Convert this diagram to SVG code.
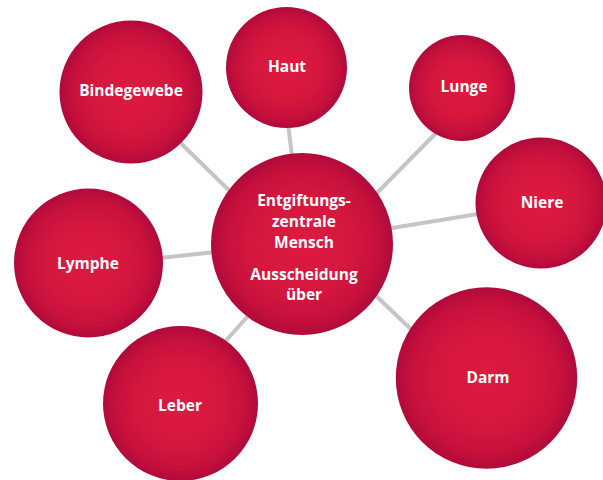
<svg xmlns="http://www.w3.org/2000/svg" width="603" height="480" viewBox="0 0 603 480">
<defs>
<radialGradient id="rg" cx="50%" cy="50%" r="50%">
<stop offset="0" stop-color="#de1a40"/>
<stop offset="0.55" stop-color="#d5173e"/>
<stop offset="0.85" stop-color="#c5103c"/>
<stop offset="1" stop-color="#b00a3a"/>
</radialGradient>
</defs>
<style>
.n{fill:url(#rg)}
.t{font-family:"Open Sans",Lato,sans-serif;font-weight:bold;font-size:15.5px;fill:#ffffff;text-anchor:middle}
.c line{stroke:#c3c5c7;stroke-width:4}
</style>
<rect width="603" height="480" fill="#ffffff"/>
<g id="connectors" class="c">
<line x1="160" y1="123" x2="240" y2="201"/>
<line x1="287" y1="115" x2="293" y2="165"/>
<line x1="445" y1="124" x2="370" y2="200"/>
<line x1="490" y1="212" x2="380" y2="230"/>
<line x1="150" y1="259" x2="225" y2="251"/>
<line x1="215" y1="353" x2="255" y2="308"/>
<line x1="370" y1="290" x2="420" y2="338"/>
</g>
<g id="bindegewebe"><circle class="n" cx="131" cy="92" r="71.5"/><text class="t" x="131" y="96">Bindegewebe</text></g>
<g id="haut"><circle class="n" cx="286.5" cy="67.5" r="60.5"/><text class="t" x="287" y="72">Haut</text></g>
<g id="lunge"><circle class="n" cx="462" cy="88" r="53"/><text class="t" x="464" y="92">Lunge</text></g>
<g id="niere"><circle class="n" cx="541" cy="203" r="65.5"/><text class="t" x="542" y="208">Niere</text></g>
<g id="lymphe"><circle class="n" cx="88.5" cy="263" r="74.5"/><text class="t" x="88" y="269">Lymphe</text></g>
<g id="leber"><circle class="n" cx="180.5" cy="403.5" r="77.5"/><text class="t" x="180" y="411">Leber</text></g>
<g id="darm"><circle class="n" cx="486.5" cy="378" r="90.7"/><text class="t" x="488" y="383">Darm</text></g>
<g id="zentrale"><circle class="n" cx="302" cy="244" r="91"/>
<text class="t" x="304" y="206">Entgiftungs-</text>
<text class="t" x="304" y="227">zentrale</text>
<text class="t" x="304" y="248">Mensch</text>
<text class="t" x="304" y="280">Ausscheidung</text>
<text class="t" x="304" y="300">über</text>
</g>
</svg>
